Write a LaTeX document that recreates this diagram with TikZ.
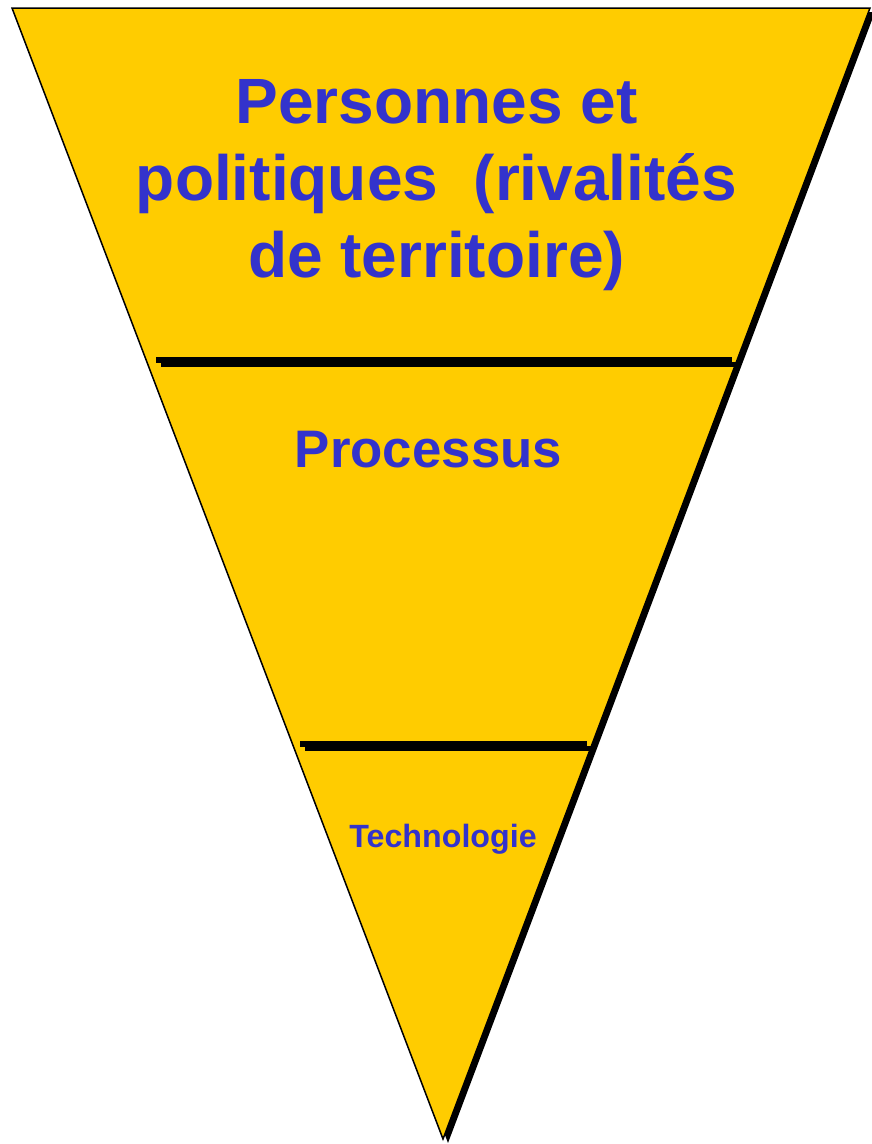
\documentclass[tikz,border=0pt]{standalone}
\usepackage{fontspec}
\setmainfont{Liberation Sans}
\usetikzlibrary{calc}
\definecolor{pyrfill}{HTML}{FFCC00}
\definecolor{labelblue}{HTML}{3333CC}
\begin{document}
\begin{tikzpicture}[x=1pt,y=-1pt,
  labeltext/.style={text=labelblue, inner sep=0pt, align=center},
  divider/.style={draw=black, line width=5.5pt, line cap=butt},
  outline/.style={fill=pyrfill, draw=black, line width=1.5pt, line join=miter},
  dropshadow/.style={fill=black}]
\useasboundingbox (0,0) rectangle (871,1144);

% corners of the inverted triangle
\coordinate (tl) at (12,8);
\coordinate (tr) at (870,8);
\coordinate (tip) at (443,1139);

% offset shadow, then the yellow triangle on top
\fill[dropshadow] ($(tl)+(5,4)$) -- ($(tr)+(5,4)$) -- ($(tip)+(5,4)$) -- cycle;
\filldraw[outline] (tl) -- (tr) -- (tip) -- cycle;

% dividing bars, each with its own shadow
\coordinate (d1a) at (156,360);   \coordinate (d1b) at (732,360);
\coordinate (d2a) at (300,744);   \coordinate (d2b) at (587,744);
\draw[divider] ($(d1a)+(5,4.5)$) -- ($(d1b)+(5,4.5)$);
\draw[divider] (d1a) -- (d1b);
\draw[divider] ($(d2a)+(5,4.5)$) -- ($(d2b)+(5,4.5)$);
\draw[divider] (d2a) -- (d2b);

% level labels
\node[labeltext, font=\fontsize{64}{77}\selectfont\bfseries] (people) at (436.5,185)
  {Personnes et\\politiques\ \ (rivalités\\de territoire)};
\node[labeltext, anchor=base, font=\fontsize{52.8}{63}\selectfont\bfseries] (process) at (428.5,467) {Processus};
\node[labeltext, anchor=base, font=\fontsize{32.2}{38}\selectfont\bfseries] (tech) at (443,847) {Technologie};
\end{tikzpicture}
\end{document}
